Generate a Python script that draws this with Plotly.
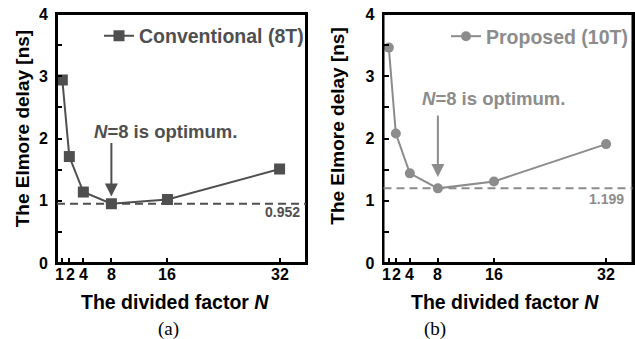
import plotly.graph_objects as go

# ---- data ----
N = [1, 2, 4, 8, 16, 32]
conv_delay = [2.94, 1.71, 1.14, 0.952, 1.02, 1.51]
prop_delay = [3.46, 2.08, 1.44, 1.199, 1.31, 1.91]
conv_min = 0.952
prop_min = 1.199
x_ticks = [1, 2, 4, 8, 16, 32]
x_ticktext = ["1", "2", "4", "8", "16", "32"]
y_ticks = [0, 1, 2, 3, 4]

W, H = 635, 339
def px(x):
    return x / W
def py(y):
    return 1 - y / H

C_A = "#4f4f4f"
C_B = "#8c8c8c"
FONT = "Arial, Liberation Sans, Helvetica, sans-serif"
SERIF = "Times New Roman, Liberation Serif, serif"

fig = go.Figure()
fig.add_trace(go.Scatter(
    x=N, y=conv_delay, mode="lines+markers", name="Conventional (8T)",
    line=dict(color=C_A, width=2), marker=dict(symbol="square", size=11, color=C_A),
    xaxis="x", yaxis="y", legend="legend"))
fig.add_trace(go.Scatter(
    x=N, y=prop_delay, mode="lines+markers", name="Proposed (10T)",
    line=dict(color=C_B, width=2), marker=dict(symbol="circle", size=10, color=C_B),
    xaxis="x2", yaxis="y2", legend="legend2"))

xr = [0.24, 35.77]
common_x = dict(range=xr, tickvals=x_ticks, ticktext=x_ticktext, ticks="inside", ticklen=5,
                tickwidth=2, tickcolor="black", showline=True, linecolor="black", linewidth=2,
                mirror=True, showgrid=False, zeroline=False, tickangle=0, automargin=False,
                showticklabels=False)
common_y = dict(range=[0, 4], tickvals=y_ticks, ticks="inside", ticklen=5, tickwidth=2,
                tickcolor="black", showline=True, linecolor="black", linewidth=2, mirror=True,
                showgrid=False, zeroline=False, ticklabelstandoff=4, automargin=False,
                minor=dict(dtick=0.5, ticks="inside", ticklen=5, tickwidth=2, tickcolor="black", showgrid=False),
                tickfont=dict(family=FONT, size=16, color="black", weight="bold"))

fig.update_layout(
    width=W, height=H, margin=dict(l=0, r=0, t=0, b=0, autoexpand=False),
    paper_bgcolor="white", plot_bgcolor="white",
    xaxis=dict(domain=[px(57), px(306)], anchor="y", **common_x),
    yaxis=dict(domain=[py(263), py(14)], anchor="x", **common_y),
    xaxis2=dict(domain=[px(383.5), px(632.5)], anchor="y2", **common_x),
    yaxis2=dict(domain=[py(263), py(14)], anchor="x2", **common_y),
    legend=dict(x=px(99), y=py(36), xanchor="left", yanchor="middle", bgcolor="rgba(0,0,0,0)",
                font=dict(family=FONT, size=19.5, color=C_A, weight="bold")),
    legend2=dict(x=px(446), y=py(36.5), xanchor="left", yanchor="middle", bgcolor="rgba(0,0,0,0)",
                 font=dict(family=FONT, size=19.5, color=C_B, weight="bold")),
    showlegend=True,
)

# frames
for ax in ["x", "x2"]:
    yax = "y" if ax == "x" else "y2"
    fig.add_shape(type="rect", xref=f"{ax} domain", yref=f"{yax} domain", x0=0, x1=1, y0=0, y1=1,
                  line=dict(color="black", width=2), fillcolor="rgba(0,0,0,0)", layer="above")

# dashed optimum lines
fig.add_shape(type="line", xref="x domain", yref="y", x0=0, x1=1, y0=conv_min, y1=conv_min,
              line=dict(color=C_A, width=2, dash="8px,5px"))
fig.add_shape(type="line", xref="x2 domain", yref="y2", x0=0, x1=1, y0=prop_min, y1=prop_min,
              line=dict(color=C_B, width=2, dash="8px,5px"))

ann = []
# x tick labels (as text, nudged apart where crowded)
label_nudge = {1: -2.5, 2: 1, 4: 0, 8: 0, 16: 0, 32: 0}
for ax in ["x", "x2"]:
    for v, t in zip(x_ticks, x_ticktext):
        ann.append(dict(text=t, xref=ax, yref="paper", x=v, y=py(274), xshift=label_nudge[v],
                        xanchor="center", yanchor="middle", showarrow=False,
                        font=dict(family=FONT, size=16, color="black", weight="bold")))
# value labels
ann.append(dict(text=f"{conv_min:.3f}", xref="x domain", yref="y", x=0.984, y=0.824,
                xanchor="right", yanchor="middle", showarrow=False,
                font=dict(family=FONT, size=14, color=C_A, weight="bold")))
ann.append(dict(text=f"{prop_min:.3f}", xref="x2 domain", yref="y2", x=0.974, y=1.03,
                xanchor="right", yanchor="middle", showarrow=False,
                font=dict(family=FONT, size=14, color=C_B, weight="bold")))
# optimum texts
ann.append(dict(text="<i>N</i>=8 is optimum.", xref="paper", yref="paper", x=px(91.7), y=py(131.7),
                xanchor="left", yanchor="middle", showarrow=False,
                font=dict(family=FONT, size=18.5, color=C_A, weight="bold")))
ann.append(dict(text="<i>N</i>=8 is optimum.", xref="paper", yref="paper", x=px(420), y=py(98.3),
                xanchor="left", yanchor="middle", showarrow=False,
                font=dict(family=FONT, size=18.5, color=C_B, weight="bold")))
# arrows
ann.append(dict(text="", xref="x", yref="y", x=8, y=1.07, ax=0, ay=-55, showarrow=True,
                arrowhead=2, arrowsize=1.3, arrowwidth=2, arrowcolor=C_A))
ann.append(dict(text="", xref="x2", yref="y2", x=8, y=1.38, ax=0, ay=-63, showarrow=True,
                arrowhead=2, arrowsize=1.3, arrowwidth=2, arrowcolor=C_B))
# axis titles
for xc, yc in [(23.3, 129), (336.7, 126)]:
    ann.append(dict(text="The Elmore delay [ns]", xref="paper", yref="paper", x=px(xc), y=py(yc),
                    textangle=-90, showarrow=False, xanchor="center", yanchor="middle",
                    font=dict(family=FONT, size=19, color="black", weight="bold")))
for xc in [175.3, 505]:
    ann.append(dict(text="The divided factor <i>N</i>", xref="paper", yref="paper", x=px(xc), y=py(302),
                    showarrow=False, xanchor="center", yanchor="middle",
                    font=dict(family=FONT, size=19.5, color="black", weight="bold")))
for xc, t in [(168.3, "(a)"), (435, "(b)")]:
    ann.append(dict(text=t, xref="paper", yref="paper", x=px(xc), y=py(329),
                    showarrow=False, xanchor="center", yanchor="middle",
                    font=dict(family=SERIF, size=19, color="black")))
fig.update_layout(annotations=ann)

fig.write_html("out.html", config={"displayModeBar": False},
               post_script="document.body.style.margin='0';document.body.style.overflow='hidden';")
